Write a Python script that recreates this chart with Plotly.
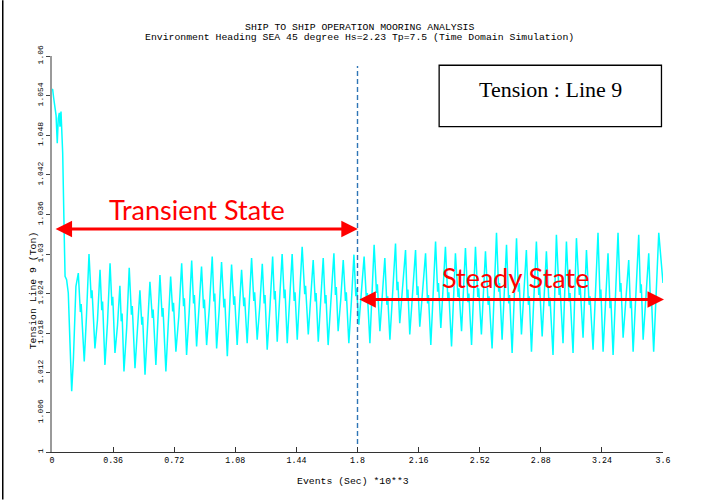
import plotly.graph_objects as go

# ---- Tension time history, Line 9 (time in 10^3 s, tension in Ton) ----
# start-up transient from the initial pretension
t_start = [0.000, 0.004, 0.010, 0.018, 0.024, 0.031, 0.037, 0.043, 0.047, 0.053,
           0.063, 0.071, 0.077, 0.086, 0.096, 0.106, 0.116, 0.126, 0.141]
v_start = [1.0550, 1.0549, 1.0536, 1.0518, 1.0510, 1.0468, 1.0505, 1.0514, 1.0493, 1.0516,
           1.0453, 1.0342, 1.0266, 1.0261, 1.0241, 1.0165, 1.0092, 1.0140, 1.0251]

# transient oscillation up to 1.8 (one wave cycle per row: crest, ripple, ripple, trough, rise)
t_transient = [
    0.155, 0.167, 0.172, 0.190, 0.203,
    0.218, 0.231, 0.236, 0.253, 0.268,
    0.283, 0.293, 0.298, 0.312, 0.327,
    0.342, 0.353, 0.358, 0.371, 0.386,
    0.400, 0.408, 0.413, 0.424, 0.440,
    0.455, 0.468, 0.473, 0.489, 0.503,
    0.518, 0.529, 0.534, 0.548, 0.562,
    0.577, 0.591, 0.596, 0.612, 0.624,
    0.636, 0.649, 0.654, 0.671, 0.685,
    0.699, 0.711, 0.716, 0.730, 0.747,
    0.764, 0.775, 0.780, 0.793, 0.808,
    0.823, 0.834, 0.839, 0.852, 0.866,
    0.881, 0.893, 0.898, 0.911, 0.927,
    0.944, 0.954, 0.959, 0.970, 0.985,
    0.999, 1.013, 1.018, 1.033, 1.046,
    1.058, 1.071, 1.076, 1.091, 1.104,
    1.117, 1.130, 1.135, 1.150, 1.163,
    1.176, 1.189, 1.194, 1.209, 1.224,
    1.239, 1.250, 1.255, 1.268, 1.284,
    1.300, 1.310, 1.315, 1.327, 1.341,
    1.356, 1.368, 1.373, 1.386, 1.400,
    1.415, 1.427, 1.432, 1.445, 1.459,
    1.474, 1.489, 1.494, 1.510, 1.524,
    1.539, 1.551, 1.556, 1.569, 1.583,
    1.598, 1.609, 1.614, 1.627, 1.644,
    1.661, 1.670, 1.675, 1.686, 1.701,
    1.716, 1.729, 1.734, 1.749, 1.764,
    1.779]
v_transient = [
    1.0271, 1.0212, 1.0224, 1.0137, 1.0205,
    1.0300, 1.0233, 1.0245, 1.0157, 1.0200,
    1.0276, 1.0215, 1.0228, 1.0132, 1.0196,
    1.0286, 1.0222, 1.0235, 1.0150, 1.0192,
    1.0252, 1.0198, 1.0210, 1.0122, 1.0188,
    1.0279, 1.0208, 1.0221, 1.0127, 1.0180,
    1.0245, 1.0193, 1.0205, 1.0117, 1.0185,
    1.0258, 1.0203, 1.0216, 1.0132, 1.0195,
    1.0268, 1.0205, 1.0218, 1.0122, 1.0192,
    1.0266, 1.0213, 1.0226, 1.0152, 1.0205,
    1.0286, 1.0221, 1.0233, 1.0147, 1.0210,
    1.0290, 1.0225, 1.0238, 1.0160, 1.0212,
    1.0281, 1.0218, 1.0231, 1.0162, 1.0218,
    1.0296, 1.0228, 1.0240, 1.0157, 1.0215,
    1.0288, 1.0219, 1.0232, 1.0145, 1.0210,
    1.0284, 1.0223, 1.0236, 1.0162, 1.0215,
    1.0276, 1.0221, 1.0234, 1.0165, 1.0222,
    1.0294, 1.0229, 1.0242, 1.0170, 1.0220,
    1.0285, 1.0225, 1.0238, 1.0155, 1.0218,
    1.0296, 1.0231, 1.0244, 1.0167, 1.0226,
    1.0300, 1.0233, 1.0246, 1.0165, 1.0228,
    1.0300, 1.0229, 1.0242, 1.0170, 1.0232,
    1.0311, 1.0239, 1.0252, 1.0178, 1.0226,
    1.0291, 1.0228, 1.0241, 1.0167, 1.0225,
    1.0294, 1.0225, 1.0238, 1.0162, 1.0228,
    1.0301, 1.0238, 1.0250, 1.0183, 1.0230,
    1.0291, 1.0229, 1.0242, 1.0165, 1.0228,
    1.0299]

# steady state oscillation from 1.8 to 3.6
t_steady = [
    1.790, 1.795, 1.808, 1.823,
    1.839, 1.853, 1.858, 1.873, 1.885,
    1.898, 1.912, 1.917, 1.932, 1.946,
    1.961, 1.973, 1.978, 1.991, 2.008,
    2.024, 2.033, 2.038, 2.049, 2.066,
    2.083, 2.092, 2.097, 2.108, 2.125,
    2.142, 2.151, 2.156, 2.167, 2.184,
    2.201, 2.213, 2.218, 2.232, 2.246,
    2.260, 2.272, 2.277, 2.291, 2.304,
    2.318, 2.333, 2.338, 2.354, 2.365,
    2.377, 2.392, 2.397, 2.413, 2.424,
    2.436, 2.451, 2.456, 2.472, 2.483,
    2.495, 2.509, 2.514, 2.530, 2.542,
    2.554, 2.570, 2.575, 2.593, 2.606,
    2.619, 2.632, 2.637, 2.652, 2.665,
    2.678, 2.691, 2.696, 2.711, 2.724,
    2.737, 2.748, 2.753, 2.766, 2.780,
    2.795, 2.807, 2.812, 2.825, 2.840,
    2.854, 2.868, 2.873, 2.888, 2.900,
    2.913, 2.929, 2.934, 2.952, 2.962,
    2.972, 2.988, 2.993, 3.011, 3.021,
    3.031, 3.047, 3.052, 3.070, 3.080,
    3.090, 3.107, 3.112, 3.129, 3.139,
    3.149, 3.165, 3.170, 3.188, 3.202,
    3.217, 3.229, 3.234, 3.247, 3.261,
    3.276, 3.288, 3.293, 3.306, 3.320,
    3.335, 3.347, 3.352, 3.365, 3.381,
    3.398, 3.408, 3.413, 3.424, 3.440,
    3.457, 3.467, 3.472, 3.483, 3.499,
    3.516, 3.527, 3.532, 3.545, 3.560,
    3.575, 3.600]
v_steady = [
    1.0236, 1.0248, 1.0193, 1.0238,
    1.0296, 1.0228, 1.0241, 1.0165, 1.0232,
    1.0314, 1.0241, 1.0254, 1.0183, 1.0236,
    1.0294, 1.0223, 1.0236, 1.0170, 1.0240,
    1.0316, 1.0245, 1.0258, 1.0195, 1.0245,
    1.0306, 1.0233, 1.0246, 1.0178, 1.0238,
    1.0306, 1.0238, 1.0251, 1.0190, 1.0240,
    1.0301, 1.0225, 1.0238, 1.0162, 1.0240,
    1.0319, 1.0243, 1.0256, 1.0188, 1.0245,
    1.0311, 1.0229, 1.0242, 1.0160, 1.0232,
    1.0301, 1.0235, 1.0248, 1.0183, 1.0240,
    1.0309, 1.0227, 1.0240, 1.0162, 1.0238,
    1.0311, 1.0235, 1.0248, 1.0178, 1.0236,
    1.0304, 1.0223, 1.0236, 1.0157, 1.0245,
    1.0332, 1.0243, 1.0256, 1.0170, 1.0240,
    1.0314, 1.0225, 1.0238, 1.0150, 1.0240,
    1.0324, 1.0243, 1.0256, 1.0178, 1.0238,
    1.0306, 1.0223, 1.0236, 1.0152, 1.0240,
    1.0319, 1.0238, 1.0251, 1.0175, 1.0236,
    1.0304, 1.0221, 1.0234, 1.0147, 1.0245,
    1.0329, 1.0238, 1.0251, 1.0165, 1.0240,
    1.0319, 1.0228, 1.0241, 1.0150, 1.0240,
    1.0324, 1.0238, 1.0251, 1.0173, 1.0236,
    1.0306, 1.0223, 1.0236, 1.0155, 1.0245,
    1.0332, 1.0233, 1.0246, 1.0152, 1.0228,
    1.0301, 1.0218, 1.0231, 1.0147, 1.0240,
    1.0332, 1.0243, 1.0256, 1.0173, 1.0232,
    1.0291, 1.0218, 1.0231, 1.0152, 1.0240,
    1.0329, 1.0241, 1.0254, 1.0170, 1.0235,
    1.0301, 1.0221, 1.0234, 1.0152, 1.0240,
    1.0332, 1.0256]

# axis ticks
x_ticks = [0, 0.36, 0.72, 1.08, 1.44, 1.8, 2.16, 2.52, 2.88, 3.24, 3.6]
x_tick_labels = ["0", "0.36", "0.72", "1.08", "1.44", "1.8", "2.16", "2.52", "2.88", "3.24", "3.6"]
y_ticks = [1.0, 1.006, 1.012, 1.018, 1.024, 1.03, 1.036, 1.042, 1.048, 1.054, 1.06]
y_tick_labels = ["1", "1.006", "1.012", "1.018", "1.024", "1.03", "1.036", "1.042", "1.048", "1.054", "1.06"]

# phase boundary and phase arrows (start, end, level)
t_boundary = 1.8
transient_span = (0.012, 1.802, 1.0338)
steady_span = (1.802, 3.606, 1.0231)

MONO = "Liberation Mono, DejaVu Sans Mono, monospace"
RED = "#FF0000"

time = t_start + t_transient + t_steady
tension = v_start + v_transient + v_steady

fig = go.Figure()
fig.add_trace(go.Scatter(
    x=time, y=tension, mode="lines",
    line=dict(color="#00FFFF", width=1.5),
    hoverinfo="skip", showlegend=False,
))

# vertical boundary between transient and steady state
fig.add_shape(type="line", xref="x", yref="y",
              x0=t_boundary, x1=t_boundary, y0=1.0012, y1=1.0585,
              line=dict(color="#2E75B6", width=1.4, dash="5px,3px"))

# label box
fig.add_shape(type="rect", xref="x", yref="y",
              x0=2.281, x1=3.591, y0=1.0493, y1=1.0586,
              line=dict(color="#000000", width=1.3), fillcolor="rgba(0,0,0,0)")
fig.add_annotation(x=2.936, y=1.0550, xref="x", yref="y",
                   text="Tension : Line 9", showarrow=False,
                   font=dict(family="Liberation Serif, Times New Roman, serif", size=22, color="#000000"))

# double-headed phase arrows
for (x0, x1, yv) in (transient_span, steady_span):
    fig.add_annotation(x=x1, y=yv, ax=x0, ay=yv, xref="x", yref="y", axref="x", ayref="y",
                       text="", showarrow=True, arrowside="end+start",
                       arrowhead=2, startarrowhead=2, arrowsize=1.1, startarrowsize=1.1,
                       arrowwidth=3, arrowcolor=RED, standoff=0, startstandoff=0)

fig.add_annotation(x=0.854, y=1.0367, xref="x", yref="y", text="Transient State",
                   showarrow=False, font=dict(family="Lato, Open Sans, sans-serif", size=27, color=RED))
fig.add_annotation(x=2.733, y=1.0265, xref="x", yref="y", text="Steady State",
                   showarrow=False, font=dict(family="Lato, Open Sans, sans-serif", size=27, color=RED))

# titles
fig.add_annotation(x=0.5035, y=1.0732, xref="paper", yref="paper",
                   text="SHIP TO SHIP OPERATION MOORING ANALYSIS", showarrow=False,
                   xanchor="center", yanchor="middle", font=dict(family=MONO, size=9.8, color="#000000"))
fig.add_annotation(x=0.5025, y=1.0455, xref="paper", yref="paper",
                   text="Environment Heading SEA 45 degree Hs=2.23 Tp=7.5 (Time Domain Simulation)",
                   showarrow=False, xanchor="center", yanchor="middle",
                   font=dict(family=MONO, size=9.8, color="#000000"))
fig.add_annotation(x=0.4924, y=-0.0747, xref="paper", yref="paper",
                   text="Events (Sec) *10**3", showarrow=False, xanchor="center", yanchor="middle",
                   font=dict(family=MONO, size=9.8, color="#000000"))
fig.add_annotation(x=-0.0303, y=0.4095, xref="paper", yref="paper",
                   text="Tension Line 9 (Ton)", showarrow=False, textangle=-90,
                   xanchor="center", yanchor="middle", font=dict(family=MONO, size=9.8, color="#000000"))

# page frame on the left edge
fig.add_shape(type="line", xref="paper", yref="paper", x0=-0.0806, x1=-0.0806, y0=-0.12, y1=1.141,
              line=dict(color="#000000", width=1.5))

fig.update_layout(
    width=705, height=500,
    margin=dict(l=52, r=42, t=56, b=48),
    paper_bgcolor="white", plot_bgcolor="white",
    showlegend=False,
    xaxis=dict(range=[0, 3.6], tickvals=x_ticks, ticktext=x_tick_labels,
               ticks="inside", ticklen=5, tickwidth=1, tickcolor="#333333",
               showline=True, linecolor="#333333", linewidth=1, mirror=False,
               showgrid=False, zeroline=False,
               tickfont=dict(family=MONO, size=8.3, color="#000000")),
    yaxis=dict(range=[1.0, 1.06], tickvals=y_ticks, ticktext=y_tick_labels,
               tickangle=-90, ticks="outside", ticklen=4, tickwidth=1, tickcolor="#444444",
               showline=True, linecolor="#9A9A9A", linewidth=2,
               showgrid=False, zeroline=False,
               tickfont=dict(family=MONO, size=8, color="#000000")),
)

fig.write_html("out.html")
